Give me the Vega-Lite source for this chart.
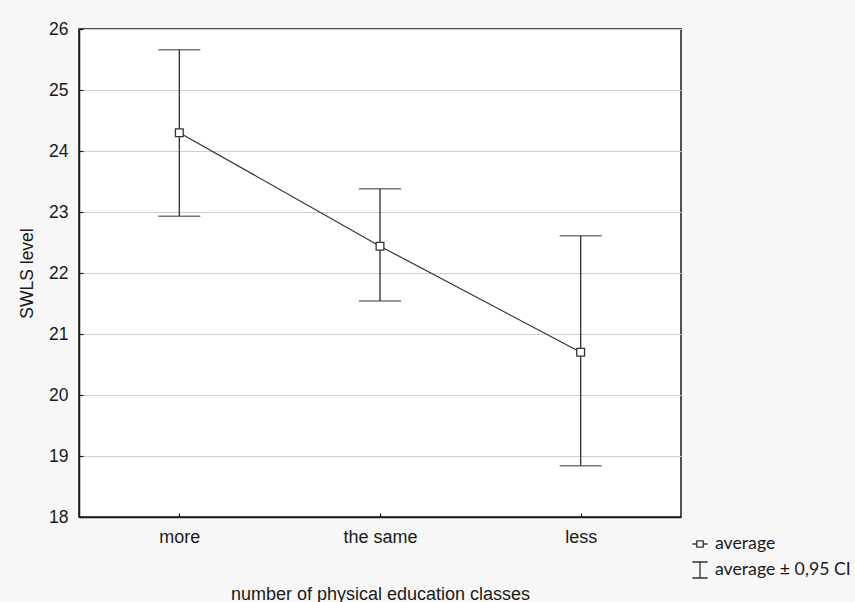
{
  "$schema": "https://vega.github.io/schema/vega-lite/v6.json",
  "width": 602,
  "height": 488,
  "autosize": {"type": "none"},
  "padding": {"left": 79, "top": 29, "right": 174, "bottom": 85},
  "background": "#f7f7f7",
  "config": {
    "view": {"fill": "white", "stroke": "#1a1a1a", "strokeWidth": 1.5},
    "axis": {
      "labelColor": "#1a1a1a",
      "titleFontWeight": "normal",
      "titleColor": "#1a1a1a",
      "domainColor": "#1a1a1a",
      "domainWidth": 1.5,
      "tickColor": "#1a1a1a",
      "tickWidth": 1.2
    }
  },
  "data": {
    "values": [
      {"classes": "more", "mean": 24.30, "lo": 22.93, "hi": 25.66, "series": "average"},
      {"classes": "the same", "mean": 22.44, "lo": 21.54, "hi": 23.38, "series": "average"},
      {"classes": "less", "mean": 20.70, "lo": 18.84, "hi": 22.61, "series": "average"}
    ]
  },
  "encoding": {
    "x": {
      "field": "classes",
      "type": "nominal",
      "sort": ["more", "the same", "less"],
      "scale": {"type": "point", "padding": 0.5},
      "axis": {
        "title": "number of physical education classes",
        "labelAngle": 0,
        "labelFont": "Liberation Sans",
        "labelFontSize": 18,
        "titleFont": "Liberation Sans",
        "titleFontSize": 18,
        "tickSize": -4,
        "labelPadding": 15,
        "titlePadding": 39,
        "grid": false
      }
    }
  },
  "layer": [
    {
      "mark": {"type": "rule", "color": "#3a3a3a", "strokeWidth": 1.4},
      "encoding": {
        "y": {
          "field": "lo",
          "type": "quantitative",
          "scale": {"domain": [18, 26], "nice": false, "zero": false},
          "axis": {
            "title": "SWLS level",
            "format": "d",
            "values": [18, 19, 20, 21, 22, 23, 24, 25, 26],
            "labelFont": "Liberation Sans",
            "labelFontSize": 17.5,
            "titleFont": "Liberation Sans",
            "titleFontSize": 17.5,
            "grid": true,
            "gridColor": "#cfcfcf",
            "gridWidth": 1,
            "tickSize": -4,
            "labelPadding": 15,
            "titlePadding": 12
          }
        },
        "y2": {"field": "hi"}
      }
    },
    {
      "mark": {"type": "tick", "color": "#3a3a3a", "size": 42, "thickness": 1.5},
      "encoding": {"y": {"field": "lo", "type": "quantitative"}}
    },
    {
      "mark": {"type": "tick", "color": "#3a3a3a", "size": 42, "thickness": 1.5},
      "encoding": {"y": {"field": "hi", "type": "quantitative"}}
    },
    {
      "mark": {"type": "line", "color": "#333333", "strokeWidth": 1.2},
      "encoding": {"y": {"field": "mean", "type": "quantitative"}}
    },
    {
      "mark": {"type": "point", "shape": "square", "filled": false, "fill": "white", "fillOpacity": 1, "stroke": "#333333", "strokeWidth": 1.3, "size": 60, "opacity": 1},
      "encoding": {
        "y": {"field": "mean", "type": "quantitative"}
      }
    },
    {
      "mark": {"type": "point", "filled": false, "stroke": "#333333", "opacity": 0},
      "encoding": {
        "y": {"field": "mean", "type": "quantitative"},
        "shape": {
          "field": "series",
          "type": "nominal",
          "scale": {
            "domain": ["average", "average ± 0,95 CI"],
            "range": ["M-0.95,0H-0.4M0.4,0H0.95M-0.4,-0.4H0.4V0.4H-0.4Z", "M-0.95,-1H0.95M0,-1V1M-0.95,1H0.95"]
          },
          "legend": {
            "title": null,
            "orient": "none",
            "legendX": 612,
            "legendY": 506,
            "symbolSize": 256,
            "symbolOpacity": 1,
            "symbolStrokeColor": "#333333",
            "symbolFillColor": "transparent",
            "symbolStrokeWidth": 1.3,
            "labelFont": "Lato",
            "labelFontSize": 17.7,
            "labelColor": "#1a1a1a",
            "labelOffset": 6,
            "rowPadding": 6
          }
        }
      }
    }
  ]
}
